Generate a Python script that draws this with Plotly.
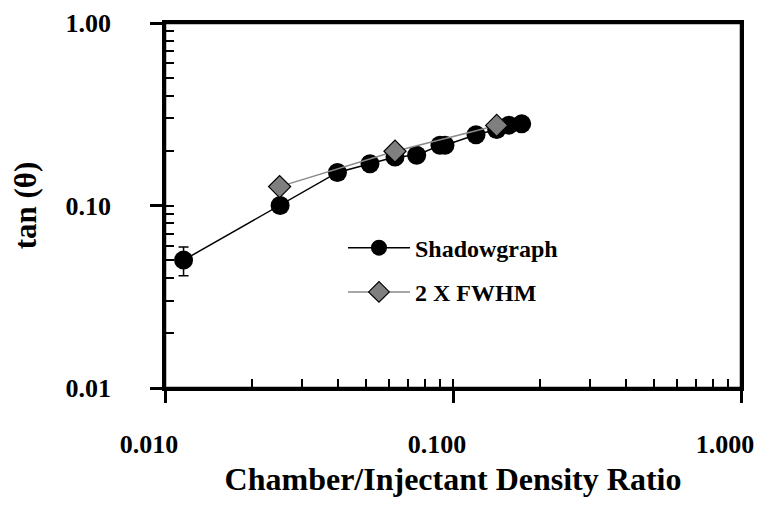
import plotly.graph_objects as go

# Shadowgraph data
shadow_x = [0.0116, 0.0251, 0.0397, 0.0515, 0.0629, 0.0748, 0.0901, 0.0938, 0.1202, 0.1418, 0.1564, 0.1732]
shadow_y = [0.0502, 0.100, 0.1517, 0.1692, 0.1846, 0.1886, 0.2138, 0.2138, 0.2441, 0.2611, 0.2756, 0.2801]
shadow_err = [0.009, None, None, None, None, None, None, None, None, None, None, None]

# 2 X FWHM data
fwhm_x = [0.0250, 0.0629, 0.1418]
fwhm_y = [0.1269, 0.1983, 0.2746]

FONT = "Liberation Serif, Times New Roman, serif"

fig = go.Figure()
fig.add_trace(go.Scatter(
    x=shadow_x, y=shadow_y, mode="lines+markers", name="Shadowgraph",
    legendgroup="a",
    line=dict(color="black", width=1.5),
    marker=dict(symbol="circle", size=19, color="black"),
    error_y=dict(type="data", array=shadow_err, visible=True, color="black", thickness=1.5, width=5),
))
fig.add_trace(go.Scatter(
    x=fwhm_x, y=fwhm_y, mode="lines+markers", name="2 X FWHM",
    legendgroup="b",
    line=dict(color="#8a8a8a", width=1.5),
    marker=dict(symbol="diamond", size=17, color="#7f7f7f", line=dict(color="black", width=1.2)),
))

axis_common = dict(
    type="log", dtick=1, showgrid=False, zeroline=False, automargin=False,
    showline=True, linecolor="black", linewidth=2.5, mirror=True,
    ticks="outside", ticklen=12, tickwidth=2.5, tickcolor="black",
    ticklabeloverflow="allow",
    minor=dict(dtick="D1", ticks="inside", ticklen=9, tickwidth=2, tickcolor="black", showgrid=False),
)

fig.update_xaxes(
    **axis_common, range=[-2, 0], tickformat=".3f", ticklabelstandoff=19, ticklabelshift=-16,
    tickfont=dict(family=FONT, size=26, color="black", weight="bold"),
    title=dict(text="Chamber/Injectant Density Ratio\u00a0\u00a0\u00a0", font=dict(family=FONT, size=32, color="black", weight="bold"), standoff=22),
)
fig.update_yaxes(
    **axis_common, range=[-2, 0], tickformat=".2f", ticklabelstandoff=34,
    tickfont=dict(family=FONT, size=26, color="black", weight="bold"),
    title=dict(text="tan (θ)", font=dict(family=FONT, size=31, color="black", weight="bold"), standoff=20),
)

# frame around the plotting area (top and right edges)
fig.add_shape(type="rect", xref="paper", yref="paper", x0=0, y0=0, x1=1, y1=1,
              line=dict(color="black", width=2.5), layer="above")

fig.update_layout(
    width=746, height=489,
    margin=dict(l=157, r=13, t=15, b=109),
    plot_bgcolor="white", paper_bgcolor="white",
    showlegend=True,
    legend=dict(
        x=0.309, y=0.445, xanchor="left", yanchor="top",
        bgcolor="rgba(0,0,0,0)", borderwidth=0,
        font=dict(family=FONT, size=24, color="black", weight="bold"),
        traceorder="grouped", tracegroupgap=10, itemwidth=62,
    ),
)

fig.write_html("out.html")
